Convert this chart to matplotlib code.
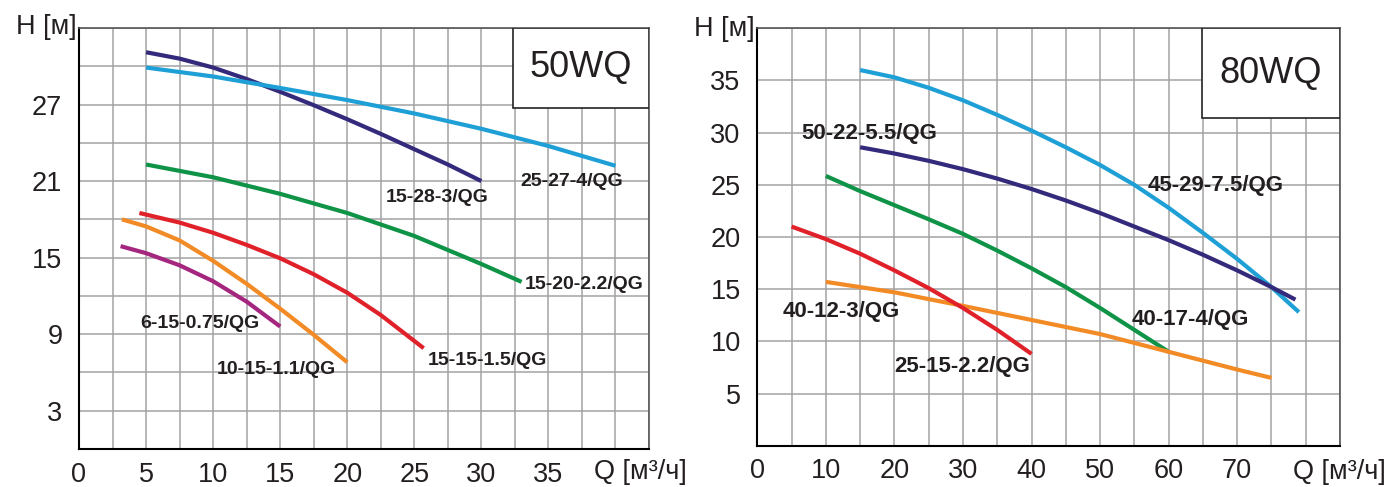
import matplotlib
matplotlib.use('Agg')
import matplotlib.pyplot as plt
from matplotlib.patches import Rectangle
import numpy as np

plt.rcParams['font.family'] = ['Liberation Sans', 'DejaVu Sans']

# ---- 50WQ data (Q m3/h, H m) ----
q_15_28 = [5, 7.5, 10, 12.5, 15, 17.5, 20, 22.5, 25, 27.5, 30]
h_15_28 = [31.1, 30.6, 29.9, 29.0, 28.0, 26.95, 25.85, 24.7, 23.5, 22.3, 21.0]
q_25_27 = [5, 10, 15, 20, 25, 30, 35, 40]
h_25_27 = [29.9, 29.2, 28.3, 27.35, 26.3, 25.1, 23.75, 22.2]
q_15_20 = [5, 10, 15, 20, 25, 30, 33]
h_15_20 = [22.3, 21.3, 20.0, 18.5, 16.7, 14.5, 13.1]
q_15_15 = [4.5, 7.5, 10, 12.5, 15, 17.5, 20, 22.5, 25.7]
h_15_15 = [18.5, 17.75, 16.95, 16.0, 14.95, 13.7, 12.25, 10.5, 7.9]
q_10_15 = [3.2, 5, 7.5, 10, 12.5, 15, 17.5, 20]
h_10_15 = [18.0, 17.45, 16.35, 14.75, 12.95, 11.0, 8.95, 6.8]
q_6_15 = [3.1, 5, 7.5, 10, 12.5, 15]
h_6_15 = [15.9, 15.35, 14.4, 13.15, 11.55, 9.6]

# ---- 80WQ data ----
q_45_29 = [15, 20, 25, 30, 35, 40, 45, 50, 55, 60, 65, 70, 75, 79]
h_45_29 = [36.0, 35.3, 34.3, 33.1, 31.7, 30.2, 28.6, 26.9, 25.0, 22.8, 20.4, 17.9, 15.2, 12.8]
q_50_22 = [15, 20, 25, 30, 35, 40, 45, 50, 55, 60, 65, 70, 75, 78.5]
h_50_22 = [28.6, 28.0, 27.3, 26.5, 25.6, 24.6, 23.5, 22.3, 21.0, 19.7, 18.3, 16.8, 15.2, 14.0]
q_40_17 = [10, 15, 20, 25, 30, 35, 40, 45, 50, 55, 60]
h_40_17 = [25.85, 24.4, 23.05, 21.7, 20.3, 18.7, 17.0, 15.2, 13.2, 11.1, 9.0]
q_40_12 = [10, 20, 30, 40, 50, 60, 70, 75]
h_40_12 = [15.7, 14.7, 13.4, 12.05, 10.7, 9.0, 7.3, 6.5]
q_25_15 = [5, 10, 15, 20, 25, 30, 35, 40]
h_25_15 = [21.0, 19.8, 18.4, 16.8, 15.1, 13.2, 11.1, 8.8]

navy = '#342a7c'
lblue = '#1ea0d7'
green = '#0e9347'
red = '#e1212a'
orange = '#f28b26'
magenta = '#a5267f'
txt = '#231f20'

left_curves = [
    (q_15_28, h_15_28, navy, '15-28-3/QG', 22.9, 19.7),
    (q_25_27, h_25_27, lblue, '25-27-4/QG', 32.9, 20.96),
    (q_15_20, h_15_20, green, '15-20-2.2/QG', 33.27, 12.93),
    (q_15_15, h_15_15, red, '15-15-1.5/QG', 26.0, 6.94),
    (q_10_15, h_10_15, orange, '10-15-1.1/QG', 10.27, 6.27),
    (q_6_15, h_6_15, magenta, '6-15-0.75/QG', 4.55, 9.85),
]
right_curves = [
    (q_45_29, h_45_29, lblue, '45-29-7.5/QG', 57.0, 24.98),
    (q_50_22, h_50_22, navy, '50-22-5.5/QG', 6.48, 29.95),
    (q_40_17, h_40_17, green, '40-17-4/QG', 54.6, 12.1),
    (q_40_12, h_40_12, orange, '40-12-3/QG', 3.7, 12.84),
    (q_25_15, h_25_15, red, '25-15-2.2/QG', 19.95, 7.57),
]

W, H = 1389, 487
fig = plt.figure(figsize=(W / 100, H / 100), dpi=100)
ax1 = fig.add_axes([79 / W, (H - 449) / H, 570 / W, 421 / H])
ax2 = fig.add_axes([757.3 / W, (H - 445.7) / H, 582.7 / W, 417.4 / H])


def style_axis(ax, xlim, ylim, xgrid, ygrid, xticks, yticks):
    ax.set_xlim(*xlim)
    ax.set_ylim(*ylim)
    ax.set_xticks(xgrid, minor=True)
    ax.set_yticks(ygrid, minor=True)
    ax.set_xticks(xticks)
    ax.set_yticks(yticks)
    ax.set_xticklabels([str(t) for t in xticks])
    ax.set_yticklabels([str(t) for t in yticks])
    ax.grid(True, which='both', color='#a3a3a3', lw=1.1)
    ax.tick_params(which='both', length=0, labelsize=19.5, colors='#231f20')
    ax.tick_params(axis='x', pad=9)
    ax.tick_params(axis='y', pad=12)
    ax.set_axisbelow(True)
    for s in ['top', 'right']:
        ax.spines[s].set_color('#555555')
        ax.spines[s].set_linewidth(1.2)
    for s in ['left', 'bottom']:
        ax.spines[s].set_color('black')
        ax.spines[s].set_linewidth(1.5)


style_axis(ax1, (0, 42.5), (0, 33), np.arange(0, 42.6, 2.5), np.arange(0, 33.1, 3),
           [0, 5, 10, 15, 20, 25, 30, 35], [3, 9, 15, 21, 27])
style_axis(ax2, (0, 85), (0, 40), np.arange(0, 85.1, 5), np.arange(0, 40.1, 5),
           [0, 10, 20, 30, 40, 50, 60, 70], [5, 10, 15, 20, 25, 30, 35])

for q, h, c, name, lx, ly in left_curves:
    ax1.plot(q, h, color=c, lw=3, solid_capstyle='butt', solid_joinstyle='round', zorder=3)
    ax1.text(lx, ly, name, fontsize=14, fontweight='bold', color=txt,
             ha='left', va='center', zorder=4)

for q, h, c, name, lx, ly in right_curves:
    ax2.plot(q, h, color=c, lw=3, solid_capstyle='butt', solid_joinstyle='round', zorder=3)
    ax2.text(lx, ly, name, fontsize=16, fontweight='bold', color=txt,
             ha='left', va='center', zorder=4)

# model boxes
for ax, x0, y0, name in [(ax1, 0.761, 0.81, '50WQ'), (ax2, 0.763, 0.784, '80WQ')]:
    ax.add_patch(Rectangle((x0, y0), 1 - x0, 1 - y0, transform=ax.transAxes,
                           facecolor='white', edgecolor='#222222', lw=1.2, zorder=5))
    ax.text((x0 + 1) / 2, (y0 + 1) / 2, name, transform=ax.transAxes, fontsize=26,
            ha='center', va='center', color=txt, zorder=6)

# axis titles
fig.text(46 / W, 1 - 27 / H, 'H [м]', fontsize=19.5, ha='center', va='center', color=txt)
fig.text(724.5 / W, 1 - 29 / H, 'H [м]', fontsize=19.5, ha='center', va='center', color=txt)
fig.text(640 / W, 1 - 472 / H, 'Q [м³/ч]', fontsize=19.5, ha='center', va='center', color=txt)
fig.text(1339 / W, 1 - 472 / H, 'Q [м³/ч]', fontsize=19.5, ha='center', va='center', color=txt)

fig.savefig('out.png', dpi=100)
